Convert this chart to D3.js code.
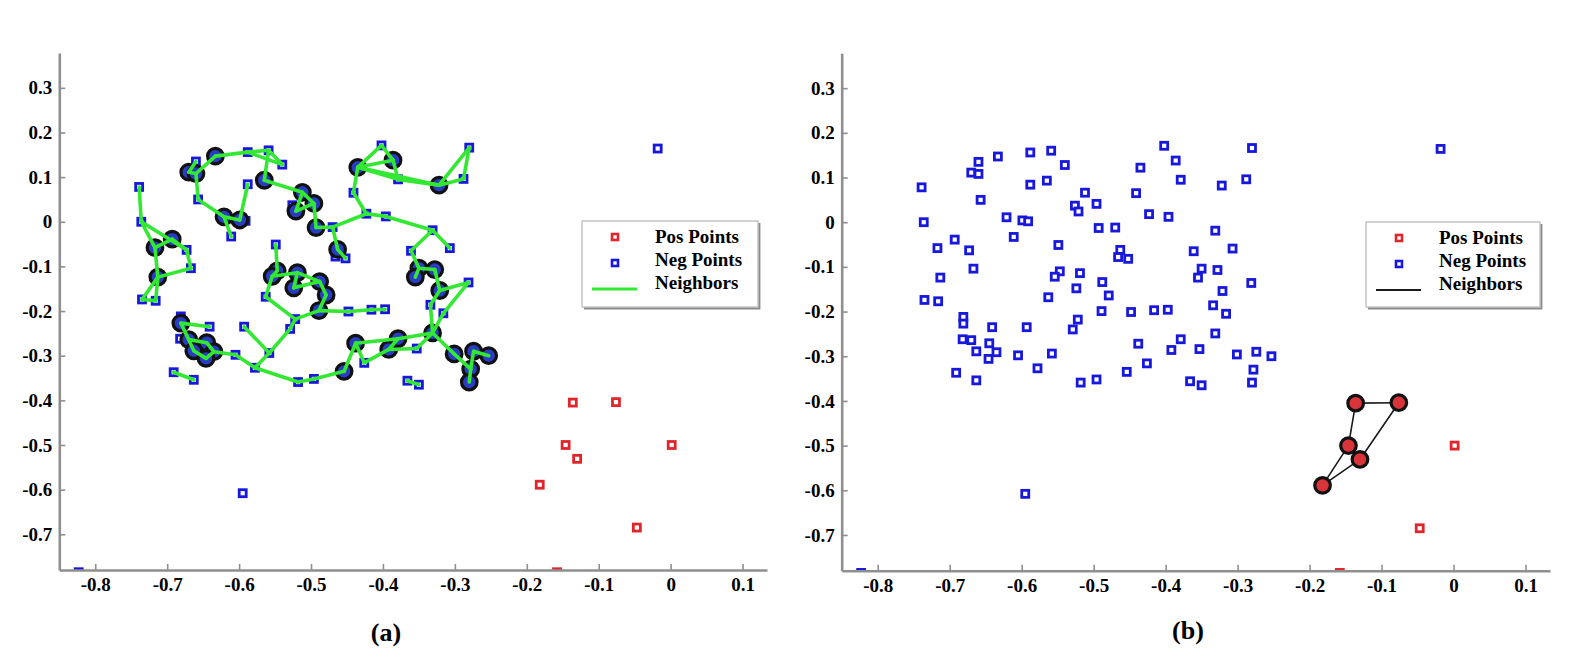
<!DOCTYPE html>
<html>
<head>
<meta charset="utf-8">
<script src="https://cdn.jsdelivr.net/npm/d3@7"></script>
<style>
body { margin: 0; background: #fff; }
text { font-family: "Liberation Serif", "Times New Roman", serif; font-weight: bold; fill: #000; }
</style>
</head>
<body>
<div id="chart"></div>
<script>
// Tick values
var xTicks = [-0.8, -0.7, -0.6, -0.5, -0.4, -0.3, -0.2, -0.1, 0, 0.1];
var yTicks = [0.3, 0.2, 0.1, 0, -0.1, -0.2, -0.3, -0.4, -0.5, -0.6, -0.7];

// Negative points [x, y]; ids used below are 1-based positions in this list
var negPoints = [
    [-0.739, 0.078], [-0.736, 0.000], [-0.660, 0.135], [-0.670, 0.111], [-0.660, 0.108],
    [-0.633, 0.147], [-0.588, 0.156], [-0.559, 0.160], [-0.540, 0.128], [-0.588, 0.084],
    [-0.565, 0.093], [-0.657, 0.050], [-0.512, 0.066], [-0.526, 0.037], [-0.521, 0.024],
    [-0.621, 0.011], [-0.599, 0.004], [-0.591, 0.002], [-0.611, -0.033], [-0.693, -0.039],
    [-0.717, -0.058], [-0.673, -0.063], [-0.549, -0.051], [-0.667, -0.104], [-0.713, -0.124],
    [-0.547, -0.110], [-0.554, -0.122], [-0.519, -0.114], [-0.524, -0.148], [-0.563, -0.168],
    [-0.735, -0.174], [-0.716, -0.177], [-0.681, -0.212], [-0.681, -0.227], [-0.641, -0.235],
    [-0.593, -0.235], [-0.522, -0.218], [-0.529, -0.240], [-0.682, -0.262], [-0.670, -0.264],
    [-0.645, -0.271], [-0.663, -0.289], [-0.635, -0.291], [-0.646, -0.306], [-0.605, -0.298],
    [-0.558, -0.294], [-0.691, -0.337], [-0.663, -0.354], [-0.578, -0.327], [-0.518, -0.359],
    [-0.402, 0.171], [-0.280, 0.166], [-0.386, 0.138], [-0.435, 0.122], [-0.379, 0.095],
    [-0.322, 0.082], [-0.288, 0.096], [-0.496, 0.041], [-0.441, 0.065], [-0.423, 0.018],
    [-0.396, 0.012], [-0.493, -0.013], [-0.470, -0.012], [-0.331, -0.019], [-0.463, -0.062],
    [-0.466, -0.078], [-0.452, -0.082], [-0.361, -0.065], [-0.307, -0.059], [-0.350, -0.104],
    [-0.355, -0.124], [-0.328, -0.107], [-0.281, -0.136], [-0.488, -0.134], [-0.479, -0.164],
    [-0.321, -0.154], [-0.489, -0.199], [-0.448, -0.201], [-0.416, -0.197], [-0.397, -0.196],
    [-0.334, -0.186], [-0.316, -0.205], [-0.438, -0.272], [-0.392, -0.286], [-0.379, -0.262],
    [-0.353, -0.284], [-0.331, -0.249], [-0.426, -0.316], [-0.454, -0.335], [-0.496, -0.352],
    [-0.301, -0.296], [-0.274, -0.290], [-0.253, -0.300], [-0.278, -0.330], [-0.366, -0.356],
    [-0.350, -0.365], [-0.280, -0.359], [-0.018, 0.164], [-0.595, -0.608], [-0.823, -0.785]
];

// Positive points [x, y]
var posPoints = [
    [-0.136, -0.405], [-0.076, -0.404], [-0.146, -0.500], [-0.130, -0.531],
    [-0.182, -0.589], [0.0015, -0.500], [-0.047, -0.685], [-0.158, -0.785]
];

// Panel (a): neighbours among the negative points
var neighborsA = [4, 5, 6, 11, 13, 58, 15, 62, 16, 17, 65, 54, 53, 56, 20, 21, 25, 26, 27, 28,
    29, 74, 75, 77, 70, 71, 72, 76, 34, 40, 41, 42, 43, 44, 83, 89, 84, 85, 87, 91, 92, 93, 94, 97];
var edgesA = [
    [1, 2], [2, 21], [2, 22], [20, 21], [20, 22], [22, 24], [24, 25], [21, 25], [25, 31], [25, 32], [31, 32],
    [3, 4], [4, 5], [5, 6], [6, 7], [7, 8], [7, 9], [8, 9], [8, 11], [11, 13], [5, 12], [12, 16], [16, 17],
    [16, 19], [17, 10], [13, 58], [13, 15], [15, 58], [58, 62], [62, 63], [63, 60], [63, 65], [65, 67],
    [59, 60], [54, 59], [60, 61], [61, 64], [64, 68], [64, 69], [68, 70], [70, 72], [70, 71], [72, 76],
    [76, 73], [76, 81], [73, 82], [81, 87], [82, 87], [54, 51], [51, 53], [53, 54], [53, 55], [54, 55],
    [55, 56], [54, 56], [56, 57], [56, 52], [52, 57], [23, 26], [26, 27], [27, 28], [28, 74], [29, 74],
    [28, 29], [74, 75], [75, 77], [27, 30], [30, 37], [37, 77], [38, 37], [77, 78], [78, 79], [79, 80],
    [34, 35], [34, 40], [40, 41], [40, 42], [41, 43], [42, 44], [43, 44], [43, 45], [45, 49], [49, 46],
    [46, 36], [46, 38], [49, 50], [50, 90], [90, 89], [89, 83], [83, 88], [83, 85], [88, 84], [84, 85],
    [85, 87], [84, 86], [86, 87], [87, 91], [91, 94], [94, 92], [92, 93], [94, 97], [95, 96], [47, 48]
];

// Panel (b): neighbours among the positive points
var neighborsB = [1, 2, 3, 4, 5];
var edgesB = [[1, 2], [1, 3], [2, 4], [3, 5], [5, 4], [3, 4]];

var legendLabels = ["Pos Points", "Neg Points", "Neighbors"];

var xDomain = [-0.85, 0.134],
    yDomain = [-0.78, 0.378];

var blue = "#1818dc", red = "#e0262c", axisGrey = "#8f8f8f";
var sq = 7; // square marker size

var svg = d3.select("#chart").append("svg")
    .attr("width", 1584)
    .attr("height", 664);

var panels = [
    {
        id: "a", left: 59.3, right: 767, top: 53, bottom: 570,
        circled: negPoints, neighbors: neighborsA, edges: edgesA,
        circleFill: "#2a3cc4", lineColor: "#33e833", lineWidth: 3.6, edgesOnTop: true,
        legend: {x: 582, y: 221, w: 176, h: 86},
        label: "(a)", labelX: 386, labelY: 641
    },
    {
        id: "b", left: 841.7, right: 1550, top: 53.3, bottom: 570.7,
        circled: posPoints, neighbors: neighborsB, edges: edgesB,
        circleFill: "#d8343a", lineColor: "#1a1a1a", lineWidth: 1.6, edgesOnTop: false,
        legend: {x: 1366, y: 222, w: 174, h: 85},
        label: "(b)", labelX: 1188, labelY: 639
    }
];

panels.forEach(drawPanel);

function fmt(d) {
    return String(+d.toFixed(1));
}

function drawPanel(p) {
    var x = d3.scaleLinear().domain(xDomain).range([p.left, p.right]);
    var y = d3.scaleLinear().domain(yDomain).range([p.bottom, p.top]);

    var g = svg.append("g").attr("class", "panel-" + p.id);

    svg.append("clipPath").attr("id", "clip-" + p.id)
        .append("rect")
        .attr("x", p.left).attr("y", p.top)
        .attr("width", p.right - p.left).attr("height", p.bottom - p.top);

    var plot = g.append("g").attr("clip-path", "url(#clip-" + p.id + ")");

    var edgeLayer = plot.append("g");
    var markLayer = plot.append("g");

    // Squares for all points
    function squares(data, color) {
        markLayer.append("g").selectAll("rect")
            .data(data)
            .enter().append("rect")
            .attr("x", function(d) { return x(d[0]) - sq / 2; })
            .attr("y", function(d) { return y(d[1]) - sq / 2; })
            .attr("width", sq)
            .attr("height", sq)
            .attr("fill", "#fff")
            .attr("stroke", color)
            .attr("stroke-width", 2.8);
    }
    squares(negPoints, blue);
    squares(posPoints, red);

    // Neighbour circles
    var circleLayer = plot.append("g");
    circleLayer.selectAll("circle")
        .data(p.neighbors)
        .enter().append("circle")
        .attr("cx", function(id) { return x(p.circled[id - 1][0]); })
        .attr("cy", function(id) { return y(p.circled[id - 1][1]); })
        .attr("r", 7.8)
        .attr("fill", p.circleFill)
        .attr("stroke", "#111")
        .attr("stroke-width", 3.2);

    if (p.edgesOnTop) edgeLayer.raise();

    edgeLayer.selectAll("line")
        .data(p.edges)
        .enter().append("line")
        .attr("x1", function(e) { return x(p.circled[e[0] - 1][0]); })
        .attr("y1", function(e) { return y(p.circled[e[0] - 1][1]); })
        .attr("x2", function(e) { return x(p.circled[e[1] - 1][0]); })
        .attr("y2", function(e) { return y(p.circled[e[1] - 1][1]); })
        .attr("stroke", p.lineColor)
        .attr("stroke-width", p.lineWidth)
        .attr("stroke-linecap", "round");

    // Axes
    var xAxis = g.append("g")
        .attr("transform", "translate(0," + p.bottom + ")")
        .call(d3.axisBottom(x).tickValues(xTicks).tickFormat(fmt)
            .tickSize(-6).tickSizeOuter(0).tickPadding(8));

    var yAxis = g.append("g")
        .attr("transform", "translate(" + p.left + ",0)")
        .call(d3.axisLeft(y).tickValues(yTicks).tickFormat(fmt)
            .tickSize(-6).tickSizeOuter(0).tickPadding(7));

    [xAxis, yAxis].forEach(function(a) {
        a.select(".domain").attr("stroke", axisGrey).attr("stroke-width", 2.6);
        a.selectAll(".tick line").attr("stroke", axisGrey).attr("stroke-width", 1.6);
        a.selectAll(".tick text")
            .attr("fill", "#000")
            .style("font-family", "'Liberation Serif', 'Times New Roman', serif")
            .style("font-weight", "bold")
            .style("font-size", "19px");
    });

    // Legend
    var L = p.legend;
    var leg = g.append("g");
    leg.append("path")
        .attr("d", "M" + (L.x + 2) + "," + (L.y + L.h + 1.2) + "H" + (L.x + L.w + 1.2) + "V" + (L.y + 2))
        .attr("fill", "none")
        .attr("stroke", "#8a8a8a")
        .attr("stroke-width", 2.4);
    leg.append("rect")
        .attr("x", L.x).attr("y", L.y)
        .attr("width", L.w).attr("height", L.h)
        .attr("fill", "#fff")
        .attr("stroke", "#c4c4c4")
        .attr("stroke-width", 1.5);

    var markerY = [16, 42, 68], textY = [22, 45, 68];
    [red, blue].forEach(function(c, i) {
        leg.append("rect")
            .attr("x", L.x + 33 - 3).attr("y", L.y + markerY[i] - 3)
            .attr("width", 6).attr("height", 6)
            .attr("fill", "#fff")
            .attr("stroke", c)
            .attr("stroke-width", 2.6);
    });
    leg.append("line")
        .attr("x1", L.x + 10).attr("x2", L.x + 55)
        .attr("y1", L.y + markerY[2]).attr("y2", L.y + markerY[2])
        .attr("stroke", p.lineColor)
        .attr("stroke-width", p.id == "a" ? 3 : 2);

    leg.selectAll("text.lab")
        .data(legendLabels)
        .enter().append("text")
        .attr("class", "lab")
        .attr("x", L.x + 73)
        .attr("y", function(d, i) { return L.y + textY[i]; })
        .style("font-size", "19px")
        .text(function(d) { return d; });

    // Panel label
    g.append("text")
        .attr("x", p.labelX)
        .attr("y", p.labelY)
        .attr("text-anchor", "middle")
        .style("font-size", "26px")
        .text(p.label);
}
</script>
</body>
</html>
